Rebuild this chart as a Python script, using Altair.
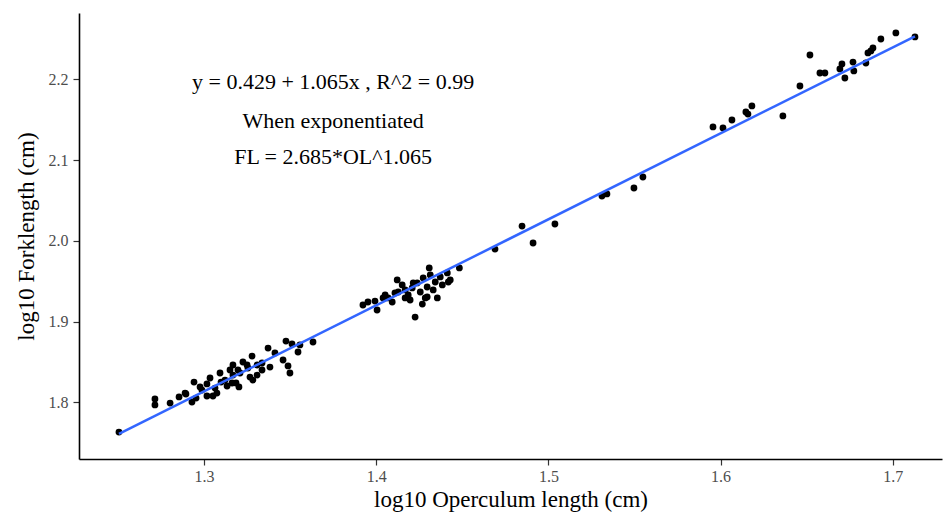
import altair as alt
import pandas as pd

# log10 operculum length (x) and log10 fork length (y)
ol = [1.2506, 1.2715, 1.2715, 1.2803, 1.2855, 1.2890, 1.2930, 1.2942, 1.2954, 1.2988,
      1.3017, 1.3017, 1.3035, 1.3052, 1.3064, 1.3075, 1.3093, 1.3099, 1.3122, 1.3134,
      1.3151, 1.3163, 1.3168, 1.3168, 1.3186, 1.3197, 1.3203, 1.3209, 1.3226, 1.3250,
      1.3255, 1.3267, 1.3279, 1.3284, 1.3308, 1.3308, 1.3337, 1.3337, 1.3372, 1.3383,
      1.3412, 1.3459, 1.3476, 1.3488, 1.3499, 1.3511, 1.3546, 1.3557, 1.3633, 1.2895,
      1.2977,
      1.3923, 1.3952, 1.3993, 1.4005, 1.4040, 1.4052, 1.4069, 1.4093, 1.4122, 1.4128,
      1.4151, 1.4168, 1.4168, 1.4186, 1.4209, 1.4215, 1.4226, 1.4238, 1.4256, 1.4268,
      1.4273, 1.4285, 1.4296, 1.4296, 1.4308, 1.4314, 1.4331, 1.4343, 1.4355, 1.4372,
      1.4384, 1.4413, 1.4419, 1.4430, 1.4483, 1.4109, 1.4197,
      1.4690, 1.4847, 1.4911, 1.5038, 1.5311, 1.5340, 1.5497, 1.5549, 1.5956, 1.6014,
      1.6066, 1.6147, 1.6159, 1.6182, 1.6362, 1.6461, 1.6519, 1.6577, 1.6606, 1.6693,
      1.6705, 1.6722, 1.6769, 1.6774, 1.6844, 1.6856, 1.6885, 1.6873, 1.6931, 1.7018,
      1.7129]
fl = [1.7632, 1.8041, 1.7967, 1.7991, 1.8066, 1.8115, 1.8004, 1.8251, 1.8053, 1.8152,
      1.8227, 1.8078, 1.8301, 1.8078, 1.8177, 1.8115, 1.8363, 1.8251, 1.8276, 1.8202,
      1.8400, 1.8239, 1.8462, 1.8338, 1.8239, 1.8400, 1.8190, 1.8363, 1.8499, 1.8462,
      1.8425, 1.8313, 1.8573, 1.8276, 1.8462, 1.8338, 1.8400, 1.8487, 1.8672, 1.8437,
      1.8611, 1.8524, 1.8759, 1.8450, 1.8363, 1.8722, 1.8623, 1.8710, 1.8747, 1.8103,
      1.8190,
      1.9205, 1.9242, 1.9254, 1.9143, 1.9292, 1.9329, 1.9292, 1.9242, 1.9515, 1.9366,
      1.9453, 1.9391, 1.9292, 1.9329, 1.9416, 1.9478, 1.9056, 1.9478, 1.9366, 1.9217,
      1.9540, 1.9292, 1.9304, 1.9428, 1.9664, 1.9577, 1.9391, 1.9490, 1.9292, 1.9552,
      1.9453, 1.9602, 1.9490, 1.9515, 1.9664, 1.9354, 1.9267,
      1.9898, 2.0183, 1.9973, 2.0208, 2.0555, 2.0580, 2.0654, 2.0790, 2.1410, 2.1397,
      2.1496, 2.1595, 2.1570, 2.1670, 2.1546, 2.1917, 2.2301, 2.2078, 2.2078, 2.2128,
      2.2190, 2.2016, 2.2214, 2.2103, 2.2202, 2.2326, 2.2388, 2.2351, 2.2499, 2.2574,
      2.2524]

# fitted line end points (y = 0.429 + 1.065x)
fit_x = [1.2506, 1.7129]
fit_y = [1.7610, 2.2533]

ann_text = ["y = 0.429 + 1.065x ,  R^2 = 0.99", "When exponentiated", "FL = 2.685*OL^1.065"]
ann_x = [1.375, 1.375, 1.375]
ann_y = [2.197, 2.148, 2.1035]

x_ticks = [1.3, 1.4, 1.5, 1.6, 1.7]
y_ticks = [1.8, 1.9, 2.0, 2.1, 2.2]
x_dom = [1.2274, 1.7286]
y_dom = [1.7298, 2.2821]

FONT = "Liberation Serif"

pts = pd.DataFrame({"ol": ol, "fl": fl})
fit = pd.DataFrame({"ol": fit_x, "fl": fit_y})
ann = pd.DataFrame({"t": ann_text, "ol": ann_x, "fl": ann_y})

xs = alt.Scale(domain=x_dom, nice=False, zero=False)
ys = alt.Scale(domain=y_dom, nice=False, zero=False)

xax = alt.Axis(title="log10 Operculum length (cm)", values=x_ticks, format=".1f",
               grid=False, domainColor="black", domainWidth=1.6, tickColor="#333333",
               tickSize=6, tickWidth=1.2, labelColor="#4D4D4D", labelFont=FONT,
               labelFontSize=16, labelPadding=3, titleFont=FONT, titleFontSize=23,
               titleFontWeight="normal", titleColor="black", titlePadding=4)
yax = alt.Axis(title="log10 Forklength (cm)", values=y_ticks, format=".1f",
               grid=False, domainColor="black", domainWidth=1.6, tickColor="#333333",
               tickSize=6, tickWidth=1.2, labelColor="#4D4D4D", labelFont=FONT,
               labelFontSize=16, labelPadding=5, titleFont=FONT, titleFontSize=23,
               titleFontWeight="normal", titleColor="black", titlePadding=10)

points = alt.Chart(pts).mark_circle(size=46, color="black", opacity=1).encode(
    x=alt.X("ol:Q", scale=xs, axis=xax),
    y=alt.Y("fl:Q", scale=ys, axis=yax),
)
line = alt.Chart(fit).mark_line(color="#3366FF", strokeWidth=2.5).encode(
    x=alt.X("ol:Q", scale=xs), y=alt.Y("fl:Q", scale=ys)
)
text = alt.Chart(ann).mark_text(font=FONT, fontSize=22, color="black", align="center",
                                baseline="middle").encode(
    x=alt.X("ol:Q", scale=xs), y=alt.Y("fl:Q", scale=ys), text="t:N"
)

chart = alt.layer(points, line, text).properties(
    width=863, height=446,
    autosize=alt.AutoSizeParams(type="none"),
    padding={"left": 79, "top": 13, "right": 1, "bottom": 60},
).configure(background="white", view=alt.ViewConfig(stroke=None))

chart.save("out.html", embed_options={"renderer": "svg", "actions": False})
